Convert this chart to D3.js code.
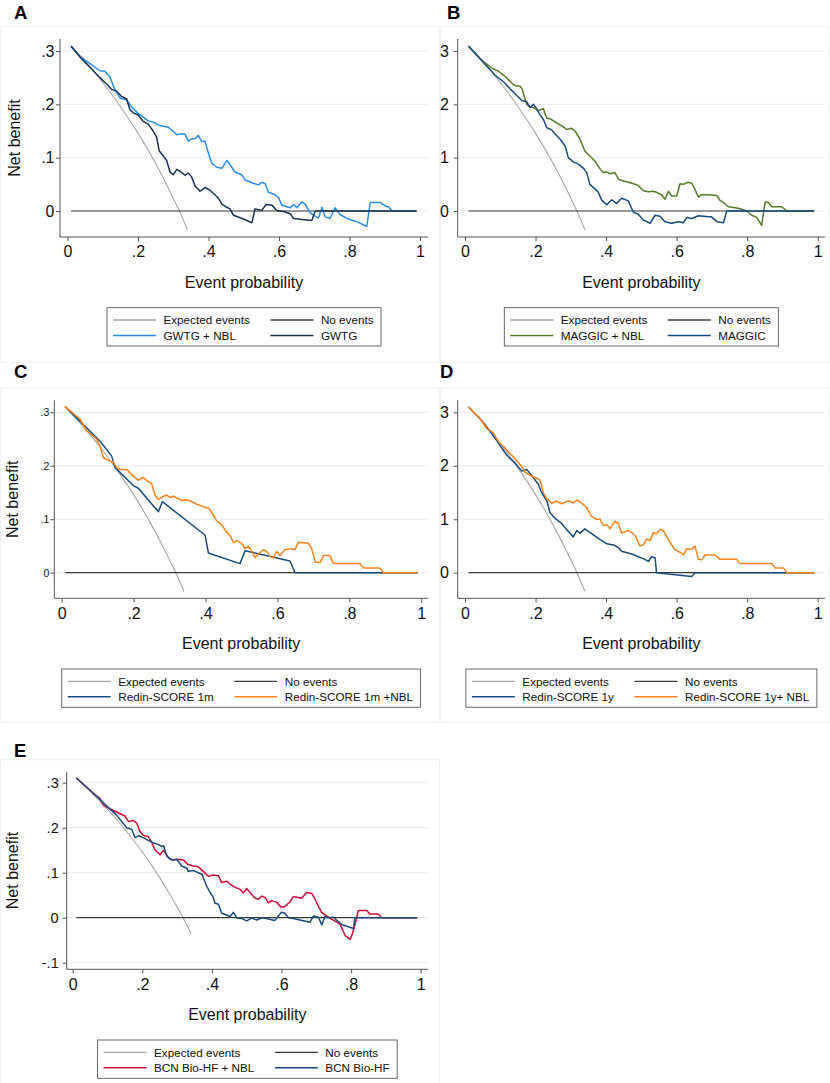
<!DOCTYPE html>
<html><head><meta charset="utf-8">
<script src="https://cdn.jsdelivr.net/npm/d3@7"></script>
<style>
body{margin:0;background:#fff;}
svg{display:block;font-family:"Liberation Sans",Arial,Helvetica,sans-serif;}
</style></head><body>
<svg id="c" width="830" height="1083"></svg>
<script>
// ---------- DATA ----------
const xTicks = [0, 0.2, 0.4, 0.6, 0.8, 1];
const xTickLabels = ["0", ".2", ".4", ".6", ".8", "1"];
const yTicksSmall = [0, 0.1, 0.2, 0.3];
const yTickLabelsSmall = ["0", ".1", ".2", ".3"];
const yTicksBig = [0, 1, 2, 3];
const yTickLabelsBig = ["0", "1", "2", "3"];
const yTicksE = [-0.1, 0, 0.1, 0.2, 0.3];
const yTickLabelsE = ["-.1", "0", ".1", ".2", ".3"];

// Expected events (treat all)
const expectedEvents = [[0.01,0.310],[0.05,0.281],[0.10,0.241],[0.15,0.196],[0.20,0.146],[0.25,0.089],[0.28,0.051],[0.30,0.024],[0.32,-0.004],[0.34,-0.035]];
const expectedEvents10 = [[0.01,3.10],[0.05,2.81],[0.10,2.41],[0.15,1.96],[0.20,1.46],[0.25,0.89],[0.28,0.51],[0.30,0.24],[0.32,-0.04],[0.34,-0.35]];
const noEvents = [[0.01,0],[0.99,0]];

// Panel A
const gwtgNbl = [[0.01,0.309],[0.035,0.29],[0.063,0.277],[0.092,0.263],[0.106,0.262],[0.12,0.252],[0.134,0.228],[0.149,0.212],[0.168,0.208],[0.182,0.195],[0.20,0.183],[0.215,0.176],[0.229,0.169],[0.243,0.167],[0.258,0.161],[0.272,0.159],[0.286,0.157],[0.30,0.149],[0.31,0.143],[0.324,0.145],[0.333,0.144],[0.343,0.131],[0.352,0.135],[0.362,0.136],[0.371,0.142],[0.381,0.130],[0.39,0.131],[0.40,0.108],[0.409,0.090],[0.423,0.082],[0.438,0.080],[0.452,0.095],[0.466,0.082],[0.475,0.073],[0.494,0.068],[0.504,0.058],[0.523,0.053],[0.542,0.049],[0.551,0.054],[0.561,0.051],[0.57,0.035],[0.584,0.032],[0.598,0.026],[0.608,0.011],[0.622,0.008],[0.632,0.006],[0.641,0.012],[0.651,0.006],[0.665,0.017],[0.674,0.013],[0.688,-0.003],[0.703,-0.010],[0.712,-0.013],[0.722,0.007],[0.731,-0.011],[0.745,-0.014],[0.759,0.006],[0.774,-0.007],[0.793,-0.014],[0.821,-0.020],[0.849,-0.029],[0.859,0.016],[0.887,0.016],[0.902,0.009],[0.911,0.008],[0.92,0.0],[0.99,0.0]];
const gwtg = [[0.01,0.309],[0.035,0.289],[0.063,0.27],[0.092,0.25],[0.111,0.238],[0.125,0.228],[0.139,0.225],[0.153,0.215],[0.168,0.21],[0.177,0.19],[0.187,0.184],[0.20,0.18],[0.215,0.168],[0.229,0.163],[0.243,0.150],[0.253,0.138],[0.26,0.113],[0.272,0.103],[0.281,0.095],[0.291,0.073],[0.30,0.068],[0.31,0.078],[0.324,0.072],[0.333,0.067],[0.343,0.071],[0.352,0.064],[0.362,0.047],[0.376,0.037],[0.39,0.044],[0.404,0.039],[0.419,0.030],[0.428,0.024],[0.438,0.013],[0.452,0.007],[0.461,0.004],[0.471,-0.008],[0.499,-0.015],[0.523,-0.022],[0.532,0.004],[0.551,0.001],[0.563,0.012],[0.58,0.011],[0.594,0.001],[0.613,-0.001],[0.632,-0.005],[0.641,-0.014],[0.665,-0.016],[0.693,-0.018],[0.703,0.0],[0.99,0.0]];

// Panel B
const maggicNbl = [[0.01,3.09],[0.047,2.83],[0.076,2.68],[0.095,2.62],[0.118,2.5],[0.132,2.4],[0.142,2.35],[0.156,2.34],[0.161,2.30],[0.175,2.0],[0.184,1.95],[0.194,1.94],[0.208,1.88],[0.222,1.92],[0.232,1.74],[0.241,1.73],[0.26,1.65],[0.274,1.6],[0.288,1.53],[0.302,1.55],[0.312,1.5],[0.326,1.35],[0.34,1.12],[0.354,1.03],[0.369,0.93],[0.383,0.79],[0.392,0.72],[0.402,0.73],[0.411,0.70],[0.425,0.72],[0.435,0.6],[0.444,0.57],[0.458,0.55],[0.473,0.52],[0.482,0.50],[0.491,0.48],[0.506,0.38],[0.52,0.36],[0.534,0.37],[0.543,0.35],[0.558,0.30],[0.567,0.22],[0.577,0.37],[0.586,0.28],[0.60,0.28],[0.61,0.51],[0.619,0.50],[0.633,0.54],[0.643,0.52],[0.652,0.40],[0.662,0.26],[0.671,0.31],[0.699,0.30],[0.714,0.29],[0.723,0.20],[0.733,0.16],[0.747,0.08],[0.775,0.05],[0.799,0.0],[0.813,-0.08],[0.827,-0.12],[0.841,-0.27],[0.851,0.17],[0.86,0.16],[0.87,0.08],[0.898,0.08],[0.912,0.0],[0.99,0.0]];
const maggic = [[0.01,3.09],[0.047,2.82],[0.085,2.55],[0.113,2.4],[0.128,2.29],[0.142,2.2],[0.161,2.07],[0.175,2.05],[0.184,1.94],[0.194,2.0],[0.203,1.92],[0.213,1.8],[0.222,1.72],[0.232,1.56],[0.246,1.52],[0.255,1.45],[0.269,1.35],[0.284,1.22],[0.293,1.0],[0.307,0.92],[0.321,0.88],[0.336,0.8],[0.345,0.72],[0.354,0.5],[0.369,0.41],[0.378,0.35],[0.388,0.2],[0.402,0.12],[0.416,0.21],[0.43,0.14],[0.444,0.24],[0.463,0.19],[0.477,-0.02],[0.491,-0.06],[0.506,-0.17],[0.525,-0.23],[0.539,-0.08],[0.553,-0.10],[0.567,-0.2],[0.586,-0.23],[0.605,-0.20],[0.619,-0.22],[0.629,-0.12],[0.643,-0.14],[0.662,-0.09],[0.69,-0.11],[0.699,-0.11],[0.714,-0.2],[0.733,-0.22],[0.742,0.0],[0.99,0.0]];

// Panel C
const redin1m = [[0.009,0.311],[0.051,0.283],[0.107,0.246],[0.139,0.218],[0.148,0.197],[0.199,0.163],[0.213,0.158],[0.269,0.114],[0.28,0.133],[0.399,0.07],[0.408,0.037],[0.496,0.017],[0.51,0.041],[0.635,0.022],[0.649,0.0],[0.99,0.0]];
const redin1mNbl = [[0.009,0.311],[0.051,0.287],[0.07,0.265],[0.097,0.25],[0.107,0.235],[0.116,0.215],[0.13,0.21],[0.144,0.207],[0.153,0.196],[0.162,0.193],[0.181,0.193],[0.195,0.183],[0.213,0.173],[0.227,0.178],[0.241,0.17],[0.25,0.167],[0.26,0.145],[0.269,0.137],[0.283,0.143],[0.292,0.145],[0.301,0.141],[0.311,0.143],[0.32,0.14],[0.334,0.135],[0.348,0.136],[0.362,0.133],[0.376,0.128],[0.389,0.125],[0.399,0.122],[0.408,0.121],[0.417,0.113],[0.431,0.097],[0.445,0.09],[0.459,0.075],[0.468,0.07],[0.478,0.056],[0.487,0.06],[0.501,0.055],[0.51,0.045],[0.519,0.05],[0.529,0.04],[0.538,0.028],[0.547,0.035],[0.561,0.043],[0.57,0.04],[0.58,0.03],[0.589,0.028],[0.598,0.04],[0.607,0.032],[0.621,0.043],[0.635,0.045],[0.649,0.043],[0.658,0.057],[0.672,0.056],[0.686,0.055],[0.695,0.046],[0.705,0.02],[0.719,0.019],[0.728,0.032],[0.746,0.032],[0.756,0.017],[0.83,0.017],[0.839,0.009],[0.885,0.009],[0.895,0.0],[0.99,0.0]];

// Panel D
const redin1y = [[0.01,3.1],[0.047,2.85],[0.085,2.52],[0.118,2.2],[0.142,2.05],[0.161,1.9],[0.175,1.93],[0.189,1.82],[0.208,1.65],[0.217,1.5],[0.232,1.35],[0.241,1.12],[0.255,1.02],[0.274,0.92],[0.293,0.77],[0.307,0.67],[0.317,0.79],[0.326,0.74],[0.34,0.82],[0.359,0.73],[0.378,0.64],[0.402,0.54],[0.421,0.52],[0.435,0.47],[0.444,0.4],[0.473,0.35],[0.51,0.25],[0.52,0.21],[0.529,0.3],[0.539,0.28],[0.543,0.0],[0.643,-0.07],[0.652,0.0],[0.99,0.0]];
const redin1yNbl = [[0.01,3.1],[0.047,2.85],[0.061,2.7],[0.08,2.62],[0.095,2.45],[0.109,2.36],[0.132,2.2],[0.151,2.06],[0.161,1.98],[0.17,1.88],[0.189,1.8],[0.203,1.77],[0.213,1.73],[0.222,1.5],[0.232,1.38],[0.246,1.3],[0.26,1.34],[0.274,1.29],[0.288,1.33],[0.298,1.34],[0.307,1.3],[0.317,1.36],[0.331,1.3],[0.345,1.22],[0.359,1.05],[0.373,1.0],[0.383,1.0],[0.392,0.88],[0.402,0.9],[0.411,0.82],[0.425,0.96],[0.435,0.92],[0.444,0.74],[0.463,0.79],[0.473,0.75],[0.482,0.7],[0.496,0.5],[0.506,0.52],[0.515,0.63],[0.525,0.6],[0.534,0.75],[0.543,0.73],[0.553,0.81],[0.562,0.79],[0.581,0.57],[0.595,0.43],[0.61,0.38],[0.619,0.33],[0.629,0.45],[0.643,0.44],[0.652,0.5],[0.662,0.25],[0.671,0.24],[0.681,0.33],[0.709,0.33],[0.723,0.25],[0.77,0.25],[0.78,0.17],[0.87,0.17],[0.879,0.09],[0.903,0.09],[0.912,0.0],[0.99,0.0]];

// Panel E
const bcnNbl = [[0.01,0.311],[0.04,0.29],[0.069,0.27],[0.079,0.265],[0.088,0.25],[0.107,0.242],[0.126,0.235],[0.15,0.226],[0.16,0.214],[0.174,0.216],[0.184,0.21],[0.193,0.192],[0.203,0.183],[0.217,0.18],[0.227,0.168],[0.237,0.15],[0.251,0.14],[0.261,0.15],[0.275,0.133],[0.289,0.128],[0.304,0.13],[0.318,0.128],[0.332,0.118],[0.347,0.115],[0.361,0.113],[0.375,0.103],[0.39,0.092],[0.404,0.095],[0.419,0.093],[0.428,0.078],[0.443,0.081],[0.457,0.072],[0.466,0.068],[0.481,0.063],[0.49,0.055],[0.5,0.065],[0.514,0.052],[0.524,0.043],[0.534,0.041],[0.543,0.048],[0.553,0.045],[0.562,0.033],[0.572,0.038],[0.586,0.034],[0.6,0.023],[0.61,0.025],[0.625,0.036],[0.634,0.047],[0.648,0.045],[0.658,0.043],[0.672,0.056],[0.687,0.054],[0.696,0.042],[0.706,0.025],[0.716,0.011],[0.73,0.004],[0.744,-0.003],[0.759,-0.01],[0.768,-0.014],[0.783,-0.04],[0.797,-0.048],[0.802,-0.04],[0.811,-0.015],[0.821,0.016],[0.845,0.016],[0.854,0.008],[0.878,0.008],[0.888,0.0],[0.99,0.0]];
const bcn = [[0.01,0.311],[0.069,0.27],[0.098,0.248],[0.126,0.228],[0.155,0.2],[0.17,0.196],[0.179,0.178],[0.189,0.182],[0.203,0.178],[0.217,0.172],[0.232,0.166],[0.246,0.163],[0.256,0.158],[0.261,0.16],[0.27,0.138],[0.284,0.128],[0.299,0.13],[0.313,0.115],[0.328,0.11],[0.332,0.103],[0.347,0.105],[0.361,0.1],[0.371,0.097],[0.385,0.07],[0.395,0.056],[0.404,0.045],[0.409,0.032],[0.419,0.03],[0.428,0.01],[0.443,0.006],[0.452,0.002],[0.462,0.012],[0.471,0.0],[0.486,-0.002],[0.5,-0.007],[0.514,-0.001],[0.529,-0.005],[0.543,0.0],[0.557,-0.002],[0.581,-0.006],[0.6,0.012],[0.61,0.01],[0.62,0.0],[0.634,-0.002],[0.682,-0.01],[0.692,0.004],[0.706,0.001],[0.716,-0.016],[0.725,0.003],[0.735,0.0],[0.749,0.001],[0.773,-0.015],[0.807,-0.024],[0.811,0.0],[0.99,0.0]];

const legendLabelsA = ["Expected events","No events","GWTG + NBL","GWTG"];
const legendLabelsB = ["Expected events","No events","MAGGIC + NBL","MAGGIC"];
const legendLabelsC = ["Expected events","No events","Redin-SCORE 1m","Redin-SCORE 1m +NBL"];
const legendLabelsD = ["Expected events","No events","Redin-SCORE 1y","Redin-SCORE 1y+ NBL"];
const legendLabelsE = ["Expected events","No events","BCN Bio-HF + NBL","BCN Bio-HF"];

// ---------- STYLE / LAYOUT ----------
const C_EXP = "#a6a6a6", C_NO = "#3c3c3c";
const C_LBLUE = "#2b8cee", C_NAVY_A = "#1c3354", C_NAVY = "#1d4a7c", C_GREEN = "#587a2c", C_ORANGE = "#f5841f", C_RED = "#cc1237";

const panels = [
  {letter:"A", lx:14, ly:18.5, frame:[0,26,440,336], axisX:60, gridEnd:428, x0:67.5, x1:420, top:39, bottom:237,
   yDom:[0,0.3], yRng:[211,51], yTicks:yTicksSmall, yLabels:yTickLabelsSmall, ytf:16, ygap:5.5, ytitle:14.5,
   exp:expectedEvents, series:[[gwtgNbl,C_LBLUE],[gwtg,C_NAVY_A]], legend:legendLabelsA, lcol:[C_LBLUE,C_NAVY_A]},
  {letter:"B", lx:447, ly:18.5, frame:[440,26,390,336], axisX:457.7, gridEnd:825, x0:465, x1:817.7, top:39, bottom:237,
   yDom:[0,3], yRng:[211,51], yTicks:yTicksBig, yLabels:yTickLabelsBig, ytf:16, ygap:8.8, ytitle:null,
   exp:expectedEvents10, series:[[maggicNbl,C_GREEN],[maggic,C_NAVY]], legend:legendLabelsB, lcol:[C_GREEN,C_NAVY]},
  {letter:"C", lx:14, ly:378, frame:[0,387.3,440,334.4], axisX:54.3, gridEnd:428, x0:61.7, x1:421.2, top:400.3, bottom:598.3,
   yDom:[0,0.3], yRng:[572.7,412.3], yTicks:yTicksSmall, yLabels:yTickLabelsSmall, ytf:10.5, ygap:5, ytitle:12.5,
   exp:expectedEvents, series:[[redin1m,C_NAVY],[redin1mNbl,C_ORANGE]], legend:legendLabelsC, lcol:[C_NAVY,C_ORANGE]},
  {letter:"D", lx:440, ly:378, frame:[440,387.3,390,334.4], axisX:457.7, gridEnd:825, x0:465, x1:817.7, top:400.3, bottom:598.3,
   yDom:[0,3], yRng:[572.7,412.3], yTicks:yTicksBig, yLabels:yTickLabelsBig, ytf:16, ygap:8.8, ytitle:null,
   exp:expectedEvents10, series:[[redin1y,C_NAVY],[redin1yNbl,C_ORANGE]], legend:legendLabelsD, lcol:[C_NAVY,C_ORANGE]},
  {letter:"E", lx:14, ly:757, frame:[0,759.3,440,340], axisX:66.7, gridEnd:428, x0:72.7, x1:420.7, top:771.7, bottom:969.3,
   yDom:[-0.1,0.3], yRng:[962.7,782.7], yTicks:yTicksE, yLabels:yTickLabelsE, ytf:14.5, ygap:8, ytitle:12,
   exp:expectedEvents, series:[[bcnNbl,C_RED],[bcn,C_NAVY]], legend:legendLabelsE, lcol:[C_RED,C_NAVY]}
];

const svg = d3.select("#c");

panels.forEach(P => {
  const g = svg.append("g");
  // frame
  g.append("rect").attr("x",P.frame[0]+0.5).attr("y",P.frame[1]+0.5).attr("width",P.frame[2]-1).attr("height",P.frame[3])
    .attr("fill","none").attr("stroke","#f1f1f1").attr("stroke-width",1);
  // letter
  g.append("text").attr("x",P.lx).attr("y",P.ly).attr("font-size",18.5).attr("font-weight","bold").attr("fill","#000").text(P.letter);

  const x = d3.scaleLinear().domain([0,1]).range([P.x0,P.x1]);
  const y = d3.scaleLinear().domain(P.yDom).range(P.yRng);

  // gridlines
  g.append("g").selectAll("line").data(P.yTicks).join("line")
    .attr("x1",P.axisX).attr("x2",P.gridEnd).attr("y1",d=>y(d)).attr("y2",d=>y(d))
    .attr("stroke","#e6edf0").attr("stroke-width",1);

  // axes
  const yAx = d3.axisLeft(y).tickValues(P.yTicks).tickFormat((d,i)=>P.yLabels[i]).tickSize(4).tickPadding(P.ygap-4);
  const yg = g.append("g").attr("transform",`translate(${P.axisX},0)`).call(yAx);
  yg.select(".domain").remove();
  yg.append("line").attr("x1",0).attr("x2",0).attr("y1",P.top).attr("y2",P.bottom).attr("stroke","#555");
  yg.selectAll(".tick line").attr("stroke","#555");
  yg.selectAll(".tick text").attr("font-size",P.ytf).attr("fill","#111").attr("font-family","Liberation Sans, Arial, sans-serif");

  const xAx = d3.axisBottom(x).tickValues(xTicks).tickFormat((d,i)=>xTickLabels[i]).tickSize(4).tickPadding(5);
  const xg = g.append("g").attr("transform",`translate(0,${P.bottom})`).call(xAx);
  xg.select(".domain").remove();
  xg.append("line").attr("x1",P.axisX).attr("x2",P.gridEnd).attr("y1",0).attr("y2",0).attr("stroke","#555");
  xg.selectAll(".tick line").attr("stroke","#555");
  xg.selectAll(".tick text").attr("font-size",16).attr("fill","#111").attr("font-family","Liberation Sans, Arial, sans-serif");

  // titles
  const cx = (P.axisX + P.gridEnd)/2;
  g.append("text").attr("x",cx).attr("y",P.bottom+50.5).attr("text-anchor","middle").attr("font-size",16).attr("fill","#111").text("Event probability");
  if (P.ytitle !== null) {
    const cy = (P.top+P.bottom)/2;
    g.append("text").attr("transform",`translate(${P.ytitle+5.5},${cy}) rotate(-90)`).attr("text-anchor","middle")
      .attr("font-size",16).attr("fill","#111").text("Net benefit");
  }

  const line = d3.line().x(d=>x(d[0])).y(d=>y(d[1]));
  g.append("path").datum(P.exp).attr("d",line.curve(d3.curveMonotoneX)).attr("fill","none").attr("stroke",C_EXP).attr("stroke-width",1.1);
  const line2 = d3.line().x(d=>x(d[0])).y(d=>y(d[1]));
  g.append("path").datum(noEvents).attr("d",line2).attr("fill","none").attr("stroke",C_NO).attr("stroke-width",1.2);
  P.series.forEach(s => {
    g.append("path").datum(s[0]).attr("d",line2).attr("fill","none").attr("stroke",s[1]).attr("stroke-width",1.5).attr("stroke-linejoin","round");
  });

  // legend
  const lt = P.bottom + 70.7;
  const lg = g.append("g");
  const fs = 11.7;
  const meas = t => { const n = lg.append("text").attr("font-size",fs).text(t); const w = n.node().getComputedTextLength(); n.remove(); return w; };
  const w1 = Math.max(meas(P.legend[0]), meas(P.legend[2]));
  const w2 = Math.max(meas(P.legend[1]), meas(P.legend[3]));
  const key = 43, pad = 6, gap = 7.5, cgap = 20.5, rpad = 7.5;
  const W = pad + key + gap + w1 + cgap + key + gap + w2 + rpad;
  const lx = cx - W/2;
  lg.append("rect").attr("x",lx).attr("y",lt).attr("width",W).attr("height",38.3).attr("fill","#fff").attr("stroke","#6a6a6a").attr("stroke-width",1);
  const cols = [lx+pad, lx+pad+key+gap+w1+cgap];
  const rows = [lt+12.3, lt+27.8];
  const keyColors = [C_EXP, C_NO, P.lcol[0], P.lcol[1]];
  const keyW = [1.3,1.3,1.6,1.6];
  P.legend.forEach((lab,i) => {
    const c = cols[i%2], r = rows[Math.floor(i/2)];
    lg.append("line").attr("x1",c).attr("x2",c+key).attr("y1",r).attr("y2",r).attr("stroke",keyColors[i]).attr("stroke-width",keyW[i]);
    lg.append("text").attr("x",c+key+gap).attr("y",r+4.2).attr("font-size",fs).attr("fill","#111").text(lab);
  });
});
</script></body></html>
